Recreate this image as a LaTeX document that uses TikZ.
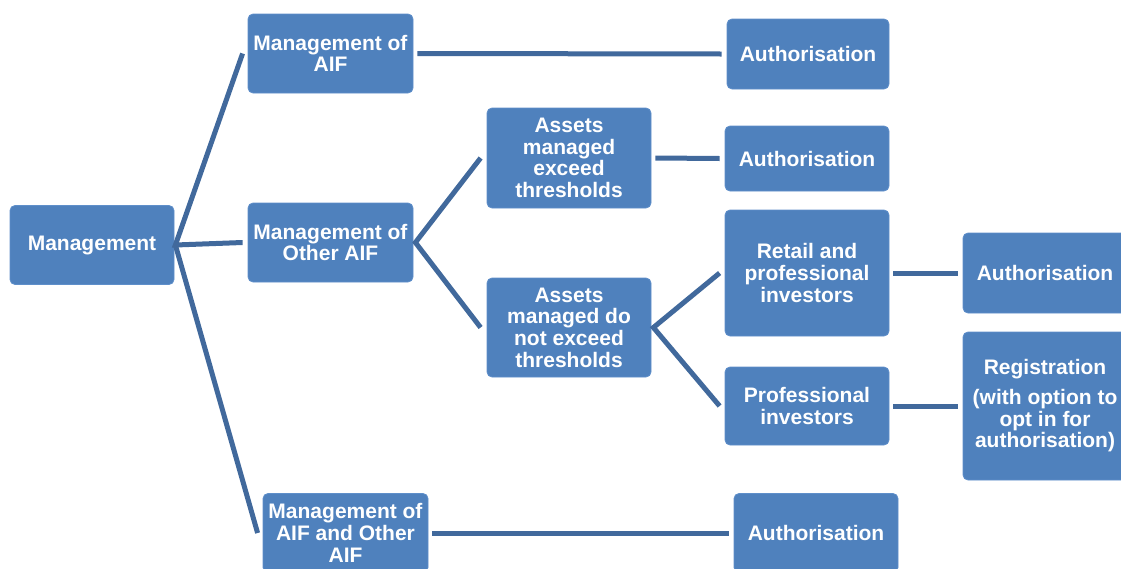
\documentclass[tikz,border=0pt]{standalone}
\usepackage{fontspec}
\setmainfont{Liberation Sans}
\usetikzlibrary{calc}
\definecolor{boxfill}{HTML}{4F81BD}
\definecolor{boxedge}{HTML}{5F8FCA}
\definecolor{linkcol}{HTML}{41699C}
\begin{document}
\begin{tikzpicture}[x=1pt,y=-1pt,
  box/.style={rectangle, rounded corners=5pt, fill=boxfill, draw=boxedge, line width=0.8pt,
    text=white, align=center, inner sep=0pt,
    font=\fontsize{21}{21.7}\selectfont\bfseries},
  link/.style={draw=linkcol, line width=5pt}]
\useasboundingbox (0,0) rectangle (1121,568);
\clip (0,0) rectangle (1121,568);
\node[box, minimum width=164pt, minimum height=79pt] (mgmt) at (92,245) {Management};
\node[box, minimum width=165pt, minimum height=79pt] (moaif) at (330.5,53.5) {Management of\\AIF};
\node[box, minimum width=165pt, minimum height=79pt] (moother) at (330.5,242.5) {Management of\\Other AIF};
\node[box, minimum width=165pt, minimum height=79pt] (moboth) at (345.5,533) {Management of\\AIF and Other\\AIF};
\node[box, minimum width=162pt, minimum height=70pt] (auth1) at (808,54) {Authorisation};
\node[box, minimum width=164pt, minimum height=100pt] (exceed) at (569,158) {Assets\\managed\\exceed\\thresholds};
\node[box, minimum width=164pt, minimum height=65pt] (auth2) at (807,158.5) {Authorisation};
\node[box, minimum width=164pt, minimum height=99pt] (notexceed) at (569,327.5) {Assets\\managed do\\not exceed\\thresholds};
\node[box, minimum width=164pt, minimum height=126pt] (retail) at (807,273) {Retail and\\professional\\investors};
\node[box, minimum width=164pt, minimum height=78pt] (prof) at (807,406) {Professional\\investors};
\node[box, minimum width=164pt, minimum height=80pt] (auth3) at (1045,273) {Authorisation};
\node[box, minimum width=164pt, minimum height=148pt] (reg) at (1045,406) {Registration\\[8pt](with option to\\opt in for\\authorisation)};
\node[box, minimum width=164pt, minimum height=79pt] (auth4) at (816,533) {Authorisation};
% connectors
\draw[link] ($(moaif.west)+(-5,0)$) -- ($(mgmt.east)+(1,0)$) -- ($(moother.west)+(-5,0)$);
\draw[link] ($(mgmt.east)+(1,0)$) -- ($(moboth.west)+(-5,0)$);
\draw[link] ($(exceed.west)+(-6,0)$) -- ($(moother.east)+(2,0)$) -- ($(notexceed.west)+(-6,0)$);
\draw[link] ($(retail.west)+(-5,0)$) -- ($(notexceed.east)+(2,0)$) -- ($(prof.west)+(-5,0)$);
\draw[link] ($(moaif.east)+(4,0)$) -- ($(auth1.west)+(-5,0)$);
\draw[link] ($(exceed.east)+(4,0)$) -- ($(auth2.west)+(-5,0)$);
\draw[link] ($(retail.east)+(4,0)$) -- ($(auth3.west)+(-5,0)$);
\draw[link] ($(prof.east)+(4,0)$) -- ($(reg.west)+(-5,0)$);
\draw[link] ($(moboth.east)+(4,0)$) -- ($(auth4.west)+(-5,0)$);
\end{tikzpicture}
\end{document}
